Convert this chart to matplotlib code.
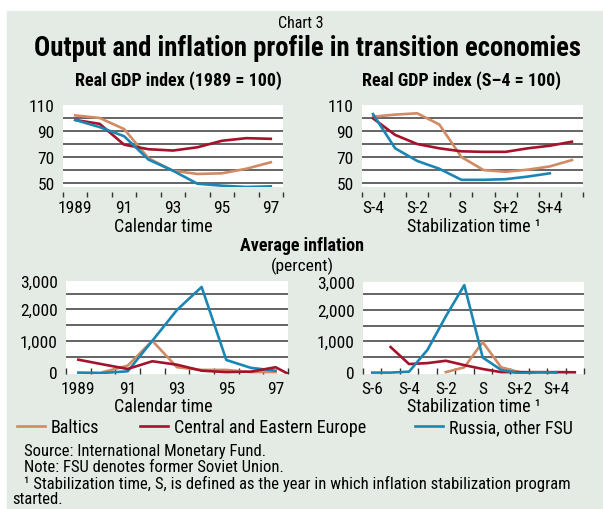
import matplotlib
matplotlib.use("Agg")
import matplotlib.pyplot as plt
from matplotlib import font_manager
from matplotlib.patches import Rectangle

# pick a narrow face if there is one
names = {f.name for f in font_manager.fontManager.ttflist}
for fam in ["Liberation Sans Narrow", "Roboto Condensed", "Liberation Sans"]:
    if fam in names:
        break
plt.rcParams["font.family"] = [fam, "DejaVu Sans"]

# colours
c_balt = "#d08a64"
c_cee = "#a3132b"
c_fsu = "#1b86b4"
bg = "#e4ebe4"
grid_c = "#3a3a3a"

# real GDP, calendar time (1989 = 100)
years = [1989, 1990, 1991, 1992, 1993, 1994, 1995, 1996, 1997]
gdp_cal_balt = [102, 100, 91.5, 69, 59.5, 57, 57.5, 61, 66]
gdp_cal_cee = [98.5, 95.5, 79.5, 76, 75, 77.5, 82.5, 84.5, 84]
gdp_cal_fsu = [98.5, 93, 86, 68, 59.5, 49.5, 48, 47, 47.5]

# real GDP, stabilization time (S-4 = 100)
stab_gdp = [-4, -3, -2, -1, 0, 1, 2, 3, 4, 5]
gdp_stab_balt = [101, 102.6, 103.6, 95, 70, 60, 58.7, 60.3, 62.8, 67.7]
gdp_stab_cee = [99.7, 87, 80, 76.7, 74.4, 74, 74, 76.7, 78.7, 81.8]
gdp_stab_fsu = [103, 76.7, 67, 61, 52.5, 52.5, 53, 55, 57.5]

# inflation, calendar time
years_cee = [1989, 1990, 1991, 1992, 1993, 1994, 1995, 1996, 1997, 1998]
inf_cal_cee = [400, 250, 105, 350, 240, 50, 5, 20, 160, -250]
years_balt = [1990, 1991, 1992, 1993, 1994, 1995, 1996, 1997]
inf_cal_balt = [5, 210, 1000, 160, 75, 75, 5, 5]
inf_cal_fsu = [-10, -20, 30, 1000, 1980, 2710, 390, 140, 50]

# inflation, stabilization time
stab_fsu = [-6, -5, -4, -3, -2, -1, 0, 1, 2, 3, 4]
inf_stab_fsu = [-10, -10, 20, 720, 1800, 2800, 475, 75, -30, 0, -10]
stab_cee = [-5, -4, -3, -2, -1, 0, 1, 2, 3, 4, 5]
inf_stab_cee = [810, 265, 295, 370, 230, 105, 5, 5, 5, 5, 0]
stab_balt = [-2, -1, 0, 1, 2]
inf_stab_balt = [5, 160, 970, 160, 5]

gdp_grid = [50, 60, 70, 80, 90, 100]
gdp_ticks = [50, 70, 90, 110]
inf_grid = [500, 1000, 1500, 2000, 2500]
inf_ticks = [0, 1000, 2000, 2900]
inf_ticklabels = ["0", "1,000", "2,000", "3,000"]

cal_ticks = [1989, 1991, 1993, 1995, 1997]
cal_labels = ["1989", "91", "93", "95", "97"]

fig = plt.figure(figsize=(6.03, 5.10), dpi=100)
fig.patches.append(Rectangle((7 / 603, 0), 1, (510 - 12) / 510,
                             transform=fig.transFigure, color=bg, zorder=-10))

fs = 12.5
lw = 1.9


def setup(ax, ylim, grid, yt, ytl, xlim, xt, xtl, xminor, gdp):
    ax.set_facecolor("white")
    for s in ax.spines.values():
        s.set_visible(False)
    if gdp:
        ax.spines["bottom"].set_position(("outward", 3.6))
    ax.set_ylim(*ylim)
    ax.set_xlim(*xlim)
    for g in grid:
        ax.axhline(g, color=grid_c, lw=1.1, zorder=1)
    ax.set_yticks(yt, ytl)
    ax.set_xticks(xt, xtl)
    ax.set_xticks(xminor, minor=True)
    ax.tick_params(axis="both", which="both", labelsize=fs)
    ax.tick_params(axis="y", length=0, pad=6)
    ax.tick_params(axis="x", which="major", length=0)
    if gdp:
        ax.tick_params(axis="x", which="minor", length=3.5, width=1,
                       direction="out", color="#333333")
        ax.tick_params(axis="x", which="major", pad=6)
    else:
        ax.tick_params(axis="x", which="minor", length=4.5, width=1,
                       direction="in", color="#333333")
        ax.tick_params(axis="x", which="major", pad=5)


# top left
ax1 = fig.add_axes([0.1045, 0.6314, 0.3648, 0.1608])
setup(ax1, (47, 110), gdp_grid, gdp_ticks, [str(v) for v in gdp_ticks],
      (1988.5, 1997.5), cal_ticks, cal_labels,
      [y - 0.5 for y in years] + [1997.5], True)
ax1.plot(years, gdp_cal_balt, color=c_balt, lw=lw, zorder=3)
ax1.plot(years, gdp_cal_cee, color=c_cee, lw=lw, zorder=3)
ax1.plot(years, gdp_cal_fsu, color=c_fsu, lw=lw, zorder=3)

# top right
ax2 = fig.add_axes([0.6003, 0.6314, 0.3665, 0.1608])
setup(ax2, (47, 110), gdp_grid, gdp_ticks, [str(v) for v in gdp_ticks],
      (-4.5, 5.5), [-4, -2, 0, 2, 4], ["S-4", "S-2", "S", "S+2", "S+4"],
      [s - 0.5 for s in stab_gdp] + [5.5], True)
ax2.plot(stab_gdp, gdp_stab_balt, color=c_balt, lw=lw, zorder=3)
ax2.plot(stab_gdp, gdp_stab_cee, color=c_cee, lw=lw, zorder=3)
ax2.plot(stab_gdp[:9], gdp_stab_fsu, color=c_fsu, lw=lw, zorder=3)

# bottom left
ax3 = fig.add_axes([0.1095, 0.2647, 0.368, 0.1824])
setup(ax3, (-55, 2900), inf_grid, inf_ticks, inf_ticklabels,
      (1988.5, 1997.5), cal_ticks, cal_labels,
      [y - 0.5 for y in years] + [1997.5], False)
ax3.plot(years_balt, inf_cal_balt, color=c_balt, lw=lw, zorder=3)
ax3.plot(years_cee, inf_cal_cee, color=c_cee, lw=lw, zorder=4)
ax3.plot(years, inf_cal_fsu, color=c_fsu, lw=lw, zorder=3)

# bottom right
ax4 = fig.add_axes([0.602, 0.2647, 0.3665, 0.1804])
setup(ax4, (-55, 2900), inf_grid, inf_ticks, inf_ticklabels,
      (-6.5, 5.5), [-6, -4, -2, 0, 2, 4], ["S-6", "S-4", "S-2", "S", "S+2", "S+4"],
      [s - 0.5 for s in stab_fsu] + [4.5, 5.5], False)
ax4.plot(stab_balt, inf_stab_balt, color=c_balt, lw=lw, zorder=3)
ax4.plot(stab_cee, inf_stab_cee, color=c_cee, lw=lw, zorder=3)
ax4.plot(stab_fsu, inf_stab_fsu, color=c_fsu, lw=lw, zorder=4)


def ftext(x, y, s, **kw):
    fig.text(x / 603, 1 - y / 510, s, **kw)


ftext(301, 23, "Chart 3", ha="center", va="center", fontsize=11.5)
ftext(307, 48, "Output and inflation profile in transition economies",
      ha="center", va="center", fontsize=19.3, fontweight="bold")
ftext(178, 81, "Real GDP index (1989 = 100)", ha="center", va="center",
      fontsize=13, fontweight="bold")
ftext(462, 81, "Real GDP index (S\u20134 = 100)", ha="center", va="center",
      fontsize=13, fontweight="bold")
ftext(302, 246, "Average inflation", ha="center", va="center",
      fontsize=13, fontweight="bold")
ftext(302, 266, "(percent)", ha="center", va="center", fontsize=12.5)

ftext(163, 227, "Calendar time", ha="center", va="center", fontsize=13)
ftext(474, 227, "Stabilization time \u00b9", ha="center", va="center", fontsize=13)
ftext(163, 407, "Calendar time", ha="center", va="center", fontsize=13)
ftext(474, 407, "Stabilization time \u00b9", ha="center", va="center", fontsize=13)

# legend row
leg = [("Baltics", c_balt, 17), ("Central and Eastern Europe", c_cee, 140),
       ("Russia, other FSU", c_fsu, 415)]
for name, col, x0 in leg:
    fig.add_artist(plt.Line2D([x0 / 603, (x0 + 28) / 603],
                              [1 - 427 / 510, 1 - 427 / 510],
                              color=col, lw=lw, transform=fig.transFigure))
    ftext(x0 + 34, 428, name, ha="left", va="center", fontsize=13)

ftext(24, 452, "Source: International Monetary Fund.", va="center", fontsize=12)
ftext(24, 468, "Note: FSU denotes former Soviet Union.", va="center", fontsize=12)
ftext(24, 484, "\u00b9 Stabilization time, S, is defined as the year in which "
      "inflation stabilization program", va="center", fontsize=12)
ftext(12, 500, "started.", va="center", fontsize=12)

fig.savefig("out.png", dpi=100)
